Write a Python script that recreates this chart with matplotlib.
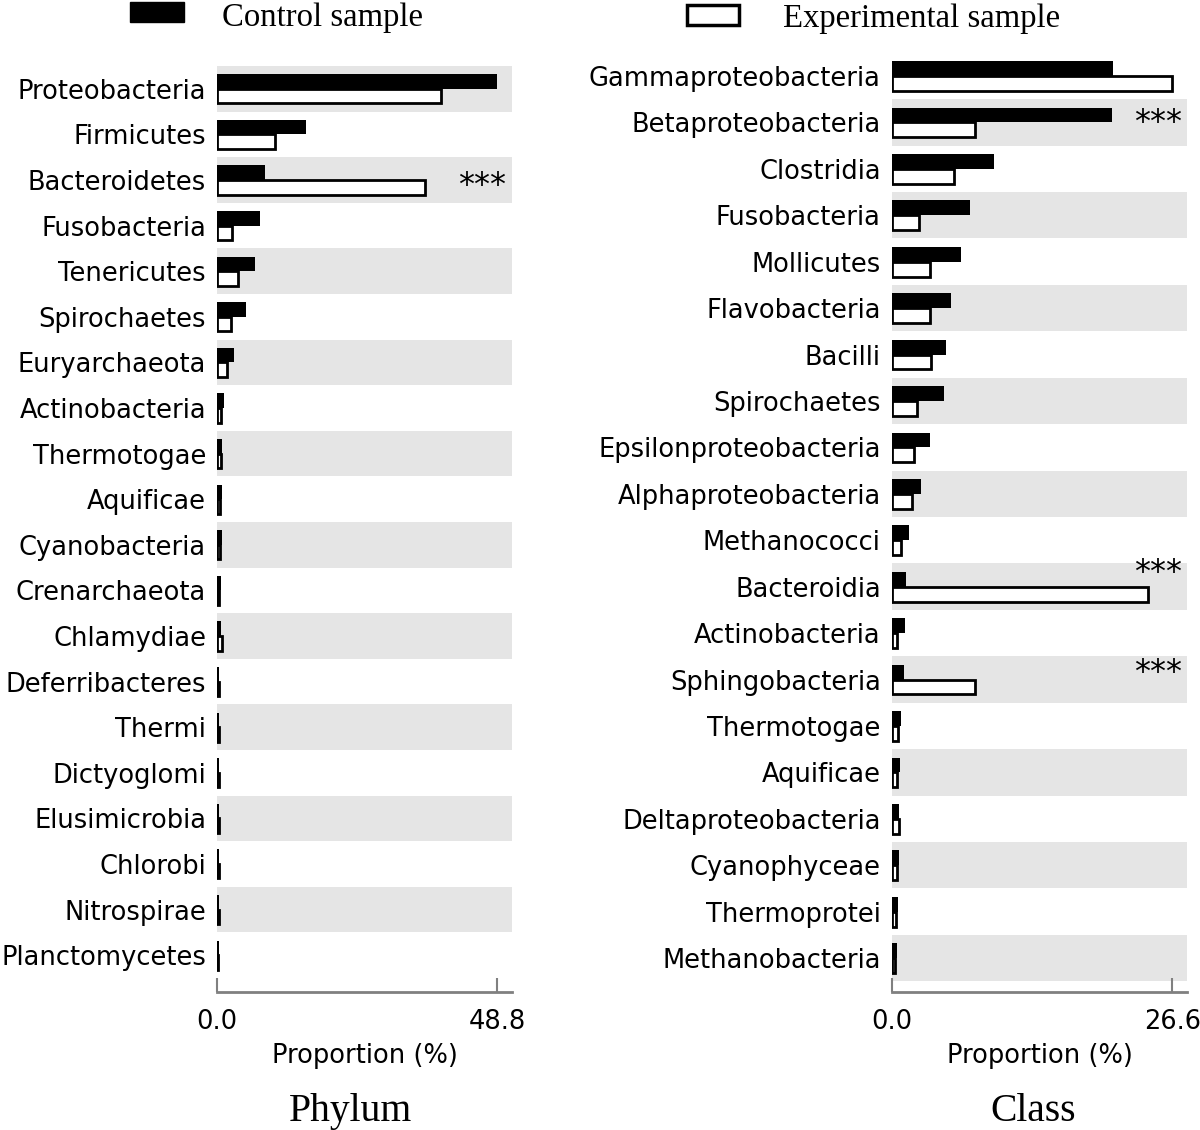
import numpy as np
import matplotlib
matplotlib.use('Agg')
import matplotlib.pyplot as plt
from matplotlib.patches import Rectangle

#%% Data

phylum_names = ['Proteobacteria', 'Firmicutes', 'Bacteroidetes', 'Fusobacteria',
                'Tenericutes', 'Spirochaetes', 'Euryarchaeota', 'Actinobacteria',
                'Thermotogae', 'Aquificae', 'Cyanobacteria', 'Crenarchaeota',
                'Chlamydiae', 'Deferribacteres', 'Thermi', 'Dictyoglomi',
                'Elusimicrobia', 'Chlorobi', 'Nitrospirae', 'Planctomycetes']
phylum_control = [48.8, 15.5, 8.4, 7.5, 6.6, 5.1, 3.0, 1.2, 0.9, 0.8,
                  0.8, 0.7, 0.6, 0.4, 0.4, 0.4, 0.4, 0.4, 0.4, 0.3]
phylum_exp = [39.0, 10.1, 36.1, 2.6, 3.7, 2.4, 1.7, 0.7, 0.6, 0.5,
              0.5, 0.4, 0.9, 0.3, 0.3, 0.3, 0.3, 0.3, 0.3, 0.2]
phylum_sig = ['Bacteroidetes']

class_names = ['Gammaproteobacteria', 'Betaproteobacteria', 'Clostridia', 'Fusobacteria',
               'Mollicutes', 'Flavobacteria', 'Bacilli', 'Spirochaetes',
               'Epsilonproteobacteria', 'Alphaproteobacteria', 'Methanococci', 'Bacteroidia',
               'Actinobacteria', 'Sphingobacteria', 'Thermotogae', 'Aquificae',
               'Deltaproteobacteria', 'Cyanophyceae', 'Thermoprotei', 'Methanobacteria']
class_control = [21.0, 20.9, 9.7, 7.4, 6.6, 5.6, 5.1, 4.9, 3.6, 2.8,
                 1.6, 1.3, 1.2, 1.1, 0.9, 0.8, 0.7, 0.7, 0.6, 0.5]
class_exp = [26.6, 7.9, 5.9, 2.6, 3.6, 3.6, 3.7, 2.4, 2.1, 1.9,
             0.9, 24.3, 0.5, 7.9, 0.6, 0.5, 0.7, 0.5, 0.4, 0.3]
class_sig = ['Betaproteobacteria', 'Bacteroidia', 'Sphingobacteria']

#%% Plot

band_col = '#e5e5e5'
spine_col = '#808080'
bh = 0.32
fs = 18.5


def panel(ax, names, control, exp, xmax, xend, ybottom, shade_first, sig, sig_dy, star_x):
    n = len(names)
    y = np.arange(n)
    for i in range(n):
        if (i % 2 == 0) == shade_first:
            ax.axhspan(i - 0.5, i + 0.5, xmin=0, xmax=1, color=band_col, lw=0, zorder=0)
    ax.barh(y - bh / 2, control, height=bh, color='black', edgecolor='black', lw=0, zorder=2)
    ax.barh(y + bh / 2, exp, height=bh, color='white', edgecolor='black', lw=2, zorder=3)
    for s, dy in zip(sig, sig_dy):
        ax.text(star_x, names.index(s) + dy, '***', ha='center', va='center',
                fontsize=23, zorder=4)
    ax.set_xlim(0, xend)
    ax.set_ylim(ybottom, -0.5)
    ax.set_yticks(y)
    ax.set_yticklabels(names, fontsize=fs)
    ax.tick_params(axis='y', length=0, pad=8)
    ax.set_xticks([0, xmax])
    ax.set_xticklabels(['0.0', '%.1f' % xmax], fontsize=fs)
    ax.tick_params(axis='x', direction='in', length=10, width=1.5, color=spine_col, pad=12)
    for sp in ['left', 'right', 'top']:
        ax.spines[sp].set_visible(False)
    ax.spines['bottom'].set_color(spine_col)
    ax.spines['bottom'].set_linewidth(2)
    ax.set_xlabel('Proportion (%)', fontsize=fs, labelpad=6)


fig = plt.figure(figsize=(12, 11.3), dpi=100)

ax1 = fig.add_axes([0.181, 0.1221, 0.246, 0.8195])
panel(ax1, phylum_names, phylum_control, phylum_exp, 48.8, 51.4, 19.81,
      True, phylum_sig, [0.12], 46.1)

ax2 = fig.add_axes([0.7433, 0.1221, 0.2458, 0.8312])
panel(ax2, class_names, class_control, class_exp, 26.6, 28.0, 19.73,
      False, class_sig, [0.0, -0.3, -0.15], 25.3)

# Legend
fig.add_artist(Rectangle((0.1083, 0.9805), 0.045, 0.0177, transform=fig.transFigure,
                         facecolor='black', edgecolor='black'))
fig.text(0.185, 0.9845, 'Control sample', family='Liberation Serif', fontsize=23.6,
         va='center', ha='left')
fig.add_artist(Rectangle((0.5725, 0.978), 0.0433, 0.0177, transform=fig.transFigure,
                         facecolor='white', edgecolor='black', lw=2.5))
fig.text(0.6525, 0.983, 'Experimental sample', family='Liberation Serif', fontsize=23.6,
         va='center', ha='left')

# Panel titles
fig.text(0.292, 0.0, 'Phylum', family='Liberation Serif', fontsize=28.5, ha='center', va='bottom')
fig.text(0.861, 0.0, 'Class', family='Liberation Serif', fontsize=28.5, ha='center', va='bottom')

fig.savefig('out.png', dpi=100)
